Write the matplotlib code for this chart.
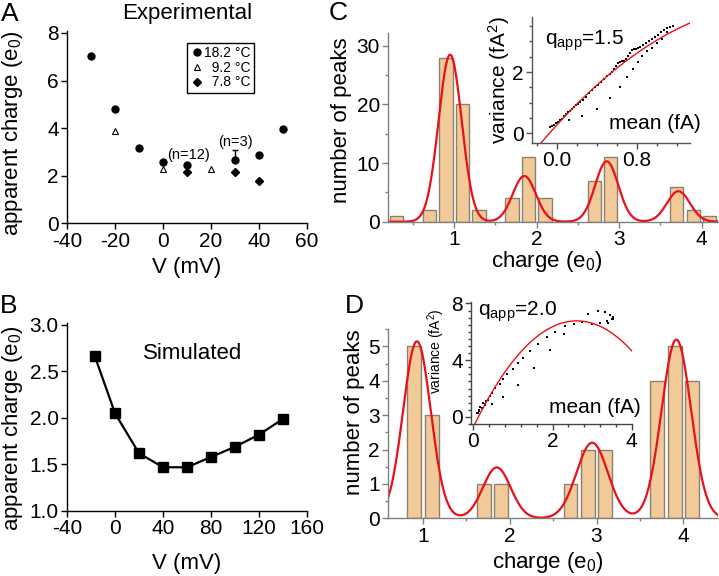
import matplotlib
matplotlib.use('Agg')
import numpy as np
import matplotlib.pyplot as plt
from matplotlib.ticker import MultipleLocator, FixedLocator

plt.rcParams['font.family'] = ['Liberation Sans', 'DejaVu Sans']
plt.rcParams['mathtext.fontset'] = 'custom'
plt.rcParams['mathtext.rm'] = 'Liberation Sans'
plt.rcParams['mathtext.it'] = 'Liberation Sans:italic'
plt.rcParams['mathtext.default'] = 'regular'
plt.rcParams['axes.unicode_minus'] = False

# ---- panel A: experimental apparent charge ----
a_v_182 = [-30, -20, -10, 0, 10, 30, 40, 50]
a_q_182 = [7.02, 4.80, 3.19, 2.58, 2.45, 2.65, 2.86, 3.98]
a_v_92 = [-20, 0, 20]
a_q_92 = [3.89, 2.30, 2.30]
a_v_78 = [10, 30, 40]
a_q_78 = [2.17, 2.17, 1.79]
a_err_v = [30]
a_err_q = [2.65]
a_err_up = [0.42]

# ---- panel B: simulated ----
b_v = [-17, 0, 20, 40, 60, 80, 100, 120, 140]
b_q = [2.67, 2.05, 1.62, 1.47, 1.47, 1.58, 1.69, 1.82, 1.99]

# ---- panel C: histogram + fit ----
c_bin_x = [0.3, 0.7, 0.9, 1.1, 1.3, 1.7, 1.9, 2.1, 2.7, 2.9, 3.7, 3.9, 4.1]
c_bin_n = [1, 2, 28, 20, 2, 4, 11, 4, 7, 11, 6, 2, 1]
c_fit_mu = [0.95, 1.85, 2.85, 3.72]
c_fit_amp = [28.5, 7.8, 10.3, 5.2]
c_fit_sd = [0.14, 0.14, 0.14, 0.14]
# inset C: variance vs mean
c_in_mean = [-0.07, -0.05, -0.03, -0.01, 0.01, 0.03, 0.05, 0.07, 0.09, 0.11, 0.13,
             0.15, 0.17, 0.19, 0.21, 0.23, 0.26, 0.29, 0.32, 0.35, 0.38, 0.41, 0.44,
             0.47, 0.50, 0.53, 0.55, 0.57, 0.59, 0.61, 0.63, 0.65, 0.67, 0.69, 0.71,
             0.73, 0.75, 0.77, 0.79, 0.81, 0.83, 0.86, 0.89, 0.92, 0.95, 0.98, 1.01,
             1.04, 1.07, 1.10, 1.13, 1.16,
             0.12, 0.25, 0.40, 0.53, 0.63, 0.70, 0.76, 0.81, 0.85, 0.90, 0.95, 1.00,
             1.05, 1.10]
c_in_var = [0.19, 0.23, 0.28, 0.33, 0.38, 0.43, 0.48, 0.55, 0.62, 0.68, 0.74,
            0.80, 0.86, 0.91, 0.96, 1.02, 1.10, 1.20, 1.30, 1.40, 1.50, 1.59, 1.68,
            1.77, 1.86, 1.95, 2.01, 2.10, 2.19, 2.28, 2.33, 2.35, 2.37, 2.43, 2.52,
            2.62, 2.71, 2.76, 2.77, 2.78, 2.82, 2.90, 2.96, 3.02, 3.08, 3.14, 3.22,
            3.30, 3.38, 3.44, 3.48, 3.52,
            0.44, 0.55, 0.79, 1.15, 1.52, 1.84, 2.09, 2.33, 2.53, 2.69, 2.80, 2.95,
            3.08, 3.30]
c_in_fit = [0.275, 3.58, -0.81]

# ---- panel D: histogram + fit ----
d_bin_x = [0.9, 1.1, 1.7, 1.9, 2.7, 2.9, 3.1, 3.7, 3.9, 4.1]
d_bin_n = [5, 3, 1, 1, 1, 2, 2, 4, 5, 4]
d_fit_mu = [0.93, 1.85, 2.95, 3.92]
d_fit_amp = [5.15, 1.48, 2.2, 5.2]
d_fit_sd = [0.16, 0.16, 0.18, 0.17]
d_in_mean = [0.10, 0.12, 0.13, 0.15, 0.18, 0.21, 0.25, 0.30, 0.33, 0.38, 0.42, 0.46,
             0.55, 0.67, 0.76, 0.86, 0.99, 1.14, 1.26, 1.43, 1.64, 1.85, 2.06, 2.32,
             2.53, 2.74, 2.99, 3.20, 3.37, 3.49, 3.54, 2.90, 3.16, 3.33, 3.45, 3.52,
             3.41, 0.30, 0.46, 0.76, 1.14, 1.53, 1.94, 2.29]
d_in_var = [0.25, 0.31, 0.40, 0.50, 0.70, 0.60, 0.95, 0.84, 1.10, 1.20, 1.45, 1.67,
            2.03, 2.34, 2.68, 2.99, 3.35, 3.78, 4.18, 4.66, 5.14, 5.61, 6.02, 6.40,
            6.57, 6.69, 6.52, 6.62, 6.76, 6.93, 7.05, 7.28, 7.45, 7.36, 7.16, 6.88,
            6.62, 0.89, 0.89, 1.39, 2.27, 3.47, 4.73, 5.85]
d_in_fit = [-0.70, 5.72, -1.095]

W, H = 719, 576
fig = plt.figure(figsize=(W / 100, H / 100), dpi=100)


def box(l, r, t, b):
    return [l / W, 1 - b / H, (r - l) / W, (b - t) / H]


def gauss_sum(x, mu, amp, sd):
    y = np.zeros_like(x)
    for m, a, s in zip(mu, amp, sd):
        y += a * np.exp(-(x - m) ** 2 / (2 * s ** 2))
    return y


TICK = 15
LAB = 16
bar_face = '#f2c998'
bar_edge = '#8c8070'
red = '#e8101a'
gray = '#808080'


def style(ax, color='black'):
    for s in ['top', 'right']:
        ax.spines[s].set_visible(False)
    for s in ['left', 'bottom']:
        ax.spines[s].set_color(color)
        ax.spines[s].set_linewidth(1.0)
    ax.tick_params(which='both', direction='out', colors=color, labelcolor='black',
                   labelsize=TICK, width=1.0)
    ax.tick_params(which='major', length=4, pad=2)
    ax.tick_params(which='minor', length=2)


# ---------- A ----------
axA = fig.add_axes(box(67, 307, 31, 223.5))
style(axA)
axA.errorbar(a_err_v, a_err_q, yerr=[[0], a_err_up], fmt='none', ecolor='black',
             elinewidth=1, capsize=2.5, capthick=1, zorder=2)
axA.plot(a_v_182, a_q_182, 'o', color='black', ms=5, ls='none', zorder=3,
         label='18.2 °C')
axA.plot(a_v_92, a_q_92, '^', mfc='white', mec='black', mew=0.8, ms=4.5, ls='none',
         zorder=3, label='\u20079.2 °C')
axA.plot(a_v_78, a_q_78, 'D', color='black', ms=4, ls='none', zorder=3,
         label='\u20077.8 °C')
axA.set_xlim(-40, 60)
axA.set_ylim(0, 8.08)
axA.set_xticks([-40, -20, 0, 20, 40, 60])
axA.set_yticks([0, 2, 4, 6, 8])
axA.set_xlabel('V (mV)', fontsize=LAB)
axA.xaxis.set_label_coords(0.5, -0.175)
axA.set_ylabel('apparent charge (e$_0$)', fontsize=LAB)
axA.yaxis.set_label_coords(-0.175, 0.47)
leg = axA.legend(loc='upper left', bbox_to_anchor=(0.5, 0.94), fontsize=10,
                 frameon=True, fancybox=False, edgecolor='black', framealpha=1,
                 borderpad=0.25, handletextpad=0.1, handlelength=0.9,
                 labelspacing=0.05, borderaxespad=0)
leg.get_frame().set_linewidth(1.0)
axA.text(10.5, 2.86, '(n=12)', fontsize=10.5, ha='center', va='center')
axA.text(30.3, 3.44, '(n=3)', fontsize=10.5, ha='center', va='center')
axA.set_title('Experimental', fontsize=LAB, pad=9)
fig.text(10 / W, 1 - 14 / H, 'A', fontsize=19, ha='center', va='center')

# ---------- B ----------
axB = fig.add_axes(box(67, 307, 323, 511))
style(axB)
axB.plot(b_v, b_q, '-s', color='black', lw=1.6, ms=6.5)
axB.set_xlim(-40, 160)
axB.set_ylim(1.0, 3.02)
axB.set_xticks([-40, 0, 40, 80, 120, 160])
axB.set_yticks([1.0, 1.5, 2.0, 2.5, 3.0])
axB.set_yticklabels(['1.0', '1.5', '2.0', '2.5', '3.0'])
axB.set_xlabel('V (mV)', fontsize=LAB)
axB.xaxis.set_label_coords(0.5, -0.225)
axB.set_ylabel('apparent charge (e$_0$)', fontsize=LAB)
axB.yaxis.set_label_coords(-0.175, 0.44)
axB.text(0.525, 0.84, 'Simulated', transform=axB.transAxes, fontsize=LAB,
         ha='center', va='center')
fig.text(9 / W, 1 - 306 / H, 'B', fontsize=19, ha='center', va='center')

# ---------- C ----------
axC = fig.add_axes(box(388.3, 718, 33, 221.7))
style(axC, gray)
axC.bar(c_bin_x, c_bin_n, width=0.16, color=bar_face, edgecolor=bar_edge, lw=1,
        zorder=1)
xc = np.linspace(0.2, 4.2, 600)
axC.plot(xc, gauss_sum(xc, c_fit_mu, c_fit_amp, c_fit_sd), color=red, lw=1.6,
         zorder=2)
axC.set_xlim(0.2, 4.2)
axC.set_ylim(0, 32.2)
axC.set_xticks([1, 2, 3, 4])
axC.xaxis.set_minor_locator(FixedLocator([0.5, 1.5, 2.5, 3.5]))
axC.set_yticks([0, 10, 20, 30])
axC.yaxis.set_minor_locator(MultipleLocator(5))
axC.set_xlabel('charge (e$_0$)', fontsize=LAB)
axC.xaxis.set_label_coords(0.48, -0.145)
axC.set_ylabel('number of peaks', fontsize=LAB)
axC.yaxis.set_label_coords(-0.11, 0.54)
fig.text(338 / W, 1 - 13 / H, 'C', fontsize=19, ha='center', va='center')

axCi = fig.add_axes(box(532, 690, 17, 142.7))
axCi.patch.set_alpha(0)
style(axCi, '#555555')
axCi.plot(c_in_mean, c_in_var, 's', color='black', ms=1.8, mew=0)
mc = np.linspace(-0.2, 1.33, 200)
axCi.plot(mc, c_in_fit[0] + c_in_fit[1] * mc + c_in_fit[2] * mc ** 2, color=red,
          lw=1.0)
axCi.set_xlim(-0.25, 1.33)
axCi.set_ylim(-0.31, 3.8)
axCi.set_xticks([0.0, 0.8])
axCi.set_xticklabels(['0.0', '0.8'])
axCi.xaxis.set_minor_locator(MultipleLocator(0.2))
axCi.set_yticks([0, 2])
axCi.yaxis.set_minor_locator(MultipleLocator(0.5))
axCi.set_ylabel('variance (fA$^2$)', fontsize=TICK)
axCi.yaxis.set_label_coords(-0.125, 0.5)
axCi.text(0.78, 0.155, 'mean (fA)', transform=axCi.transAxes, fontsize=TICK,
          ha='center', va='center', clip_on=False)
axCi.text(0.33, 0.81, 'q$_{app}$=1.5', transform=axCi.transAxes, fontsize=TICK,
          ha='center', va='center')

# ---------- D ----------
axD = fig.add_axes(box(388.3, 718, 329.3, 518.3))
style(axD, gray)
axD.bar(d_bin_x, d_bin_n, width=0.16, color=bar_face, edgecolor=bar_edge, lw=1,
        zorder=1)
xd = np.linspace(0.6, 4.4, 600)
axD.plot(xd, gauss_sum(xd, d_fit_mu, d_fit_amp, d_fit_sd), color=red, lw=1.6,
         zorder=2)
axD.set_xlim(0.6, 4.4)
axD.set_ylim(0, 5.5)
axD.set_xticks([1, 2, 3, 4])
axD.xaxis.set_minor_locator(FixedLocator([1.5, 2.5, 3.5]))
axD.set_yticks([0, 1, 2, 3, 4, 5])
axD.yaxis.set_minor_locator(MultipleLocator(0.5))
axD.set_xlabel('charge (e$_0$)', fontsize=LAB)
axD.xaxis.set_label_coords(0.485, -0.17)
axD.set_ylabel('number of peaks', fontsize=LAB)
axD.yaxis.set_label_coords(-0.07, 0.56)
fig.text(354 / W, 1 - 306 / H, 'D', fontsize=19, ha='center', va='center')

axDi = fig.add_axes(box(471, 631.7, 302, 424))
axDi.patch.set_alpha(0)
style(axDi, '#444444')
axDi.plot(d_in_mean, d_in_var, 's', color='black', ms=1.8, mew=0)
md = np.linspace(0.03, 4.0, 200)
axDi.plot(md, d_in_fit[0] + d_in_fit[1] * md + d_in_fit[2] * md ** 2, color=red,
          lw=1.0)
axDi.set_xlim(-0.06, 4.0)
axDi.set_ylim(-0.5, 8.1)
axDi.set_xticks([0, 2, 4])
axDi.xaxis.set_minor_locator(MultipleLocator(0.4))
axDi.set_yticks([0, 4, 8])
axDi.yaxis.set_minor_locator(MultipleLocator(0.5))
axDi.set_ylabel('variance (fA$^2$)', fontsize=10)
axDi.yaxis.set_label_coords(-0.15, 0.6)
axDi.text(0.77, 0.135, 'mean (fA)', transform=axDi.transAxes, fontsize=TICK,
          ha='center', va='center')
axDi.text(0.29, 0.92, 'q$_{app}$=2.0', transform=axDi.transAxes, fontsize=TICK,
          ha='center', va='center')

fig.savefig('out.png', dpi=100)
